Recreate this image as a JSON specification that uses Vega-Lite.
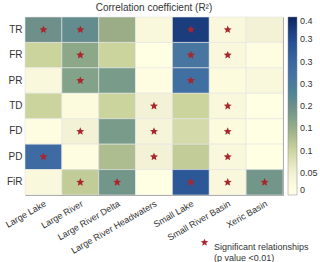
{
  "$schema": "https://vega.github.io/schema/vega-lite/v6.json",
  "width": 258,
  "height": 178,
  "autosize": {"type": "none"},
  "padding": {"left": 25, "top": 17, "right": 37, "bottom": 67},
  "background": "white",
  "title": {"text": "Correlation coefficient (R²)", "fontSize": 10, "fontWeight": "normal", "font": "Liberation Sans", "color": "#333333", "offset": 4, "anchor": "middle"},
  "config": {"view": {"stroke": "#999999", "strokeWidth": 1}, "font": "Liberation Sans"},
  "data": {"values": [
    {"y": "TR", "x": "Large Lake", "r2": 0.2, "sig": 1},
    {"y": "TR", "x": "Large River", "r2": 0.21, "sig": 1},
    {"y": "TR", "x": "Large River Delta", "r2": 0.15, "sig": 0},
    {"y": "TR", "x": "Large River Headwaters", "r2": 0.03, "sig": 0},
    {"y": "TR", "x": "Small Lake", "r2": 0.37, "sig": 1},
    {"y": "TR", "x": "Small River Basin", "r2": 0.03, "sig": 1},
    {"y": "TR", "x": "Xeric Basin", "r2": 0.05, "sig": 0},
    {"y": "FR", "x": "Large Lake", "r2": 0.1, "sig": 0},
    {"y": "FR", "x": "Large River", "r2": 0.16, "sig": 1},
    {"y": "FR", "x": "Large River Delta", "r2": 0.1, "sig": 0},
    {"y": "FR", "x": "Large River Headwaters", "r2": 0.0, "sig": 0},
    {"y": "FR", "x": "Small Lake", "r2": 0.26, "sig": 1},
    {"y": "FR", "x": "Small River Basin", "r2": 0.03, "sig": 1},
    {"y": "FR", "x": "Xeric Basin", "r2": 0.01, "sig": 0},
    {"y": "PR", "x": "Large Lake", "r2": 0.03, "sig": 0},
    {"y": "PR", "x": "Large River", "r2": 0.17, "sig": 1},
    {"y": "PR", "x": "Large River Delta", "r2": 0.18, "sig": 0},
    {"y": "PR", "x": "Large River Headwaters", "r2": 0.01, "sig": 0},
    {"y": "PR", "x": "Small Lake", "r2": 0.28, "sig": 1},
    {"y": "PR", "x": "Small River Basin", "r2": 0.02, "sig": 0},
    {"y": "PR", "x": "Xeric Basin", "r2": 0.03, "sig": 0},
    {"y": "TD", "x": "Large Lake", "r2": 0.1, "sig": 0},
    {"y": "TD", "x": "Large River", "r2": 0.02, "sig": 0},
    {"y": "TD", "x": "Large River Delta", "r2": 0.1, "sig": 0},
    {"y": "TD", "x": "Large River Headwaters", "r2": 0.05, "sig": 1},
    {"y": "TD", "x": "Small Lake", "r2": 0.1, "sig": 0},
    {"y": "TD", "x": "Small River Basin", "r2": 0.03, "sig": 1},
    {"y": "TD", "x": "Xeric Basin", "r2": 0.0, "sig": 0},
    {"y": "FD", "x": "Large Lake", "r2": 0.01, "sig": 0},
    {"y": "FD", "x": "Large River", "r2": 0.05, "sig": 1},
    {"y": "FD", "x": "Large River Delta", "r2": 0.18, "sig": 0},
    {"y": "FD", "x": "Large River Headwaters", "r2": 0.04, "sig": 1},
    {"y": "FD", "x": "Small Lake", "r2": 0.09, "sig": 0},
    {"y": "FD", "x": "Small River Basin", "r2": 0.02, "sig": 1},
    {"y": "FD", "x": "Xeric Basin", "r2": 0.0, "sig": 0},
    {"y": "PD", "x": "Large Lake", "r2": 0.29, "sig": 1},
    {"y": "PD", "x": "Large River", "r2": 0.01, "sig": 0},
    {"y": "PD", "x": "Large River Delta", "r2": 0.13, "sig": 0},
    {"y": "PD", "x": "Large River Headwaters", "r2": 0.05, "sig": 1},
    {"y": "PD", "x": "Small Lake", "r2": 0.11, "sig": 0},
    {"y": "PD", "x": "Small River Basin", "r2": 0.03, "sig": 1},
    {"y": "PD", "x": "Xeric Basin", "r2": 0.0, "sig": 0},
    {"y": "FiR", "x": "Large Lake", "r2": 0.03, "sig": 0},
    {"y": "FiR", "x": "Large River", "r2": 0.11, "sig": 1},
    {"y": "FiR", "x": "Large River Delta", "r2": 0.19, "sig": 1},
    {"y": "FiR", "x": "Large River Headwaters", "r2": 0.0, "sig": 0},
    {"y": "FiR", "x": "Small Lake", "r2": 0.33, "sig": 1},
    {"y": "FiR", "x": "Small River Basin", "r2": 0.03, "sig": 1},
    {"y": "FiR", "x": "Xeric Basin", "r2": 0.19, "sig": 1}
  ]},
  "encoding": {
    "x": {"field": "x", "type": "nominal", "sort": null, "title": null,
      "axis": {"labelAngle": -30, "labelAlign": "right", "labelBaseline": "top", "labelFontSize": 9, "labelColor": "#333333", "ticks": false, "domain": false, "labelPadding": 4}},
    "y": {"field": "y", "type": "nominal", "sort": ["TR", "FR", "PR", "TD", "FD", "PD", "FiR"], "title": null,
      "axis": {"labelFontSize": 10, "labelColor": "#333333", "ticks": false, "domain": false, "labelPadding": 3}}
  },
  "layer": [
    {
      "mark": {"type": "rect", "stroke": "#e4e4e4", "strokeWidth": 0.6},
      "encoding": {
        "color": {"field": "r2", "type": "quantitative",
          "scale": {"domain": [0, 0.05, 0.1, 0.15, 0.2, 0.25, 0.3, 0.35, 0.4], "range": ["#ffffff", "#f3f2d6", "#ccd49e", "#9aad86", "#6e8f8a", "#4d7aa1", "#3a67a2", "#244e91", "#0c2461"]},
          "legend": {"orient": "none", "legendX": 263, "legendY": 0, "direction": "vertical", "gradientLength": 178, "gradientThickness": 9, "gradientStrokeColor": "#888888", "gradientStrokeWidth": 0.5, "title": null, "values": [0, 0.05, 0.1, 0.15, 0.2, 0.25, 0.3, 0.35, 0.4], "format": "~g", "labelFontSize": 9, "labelColor": "#333333", "labelOffset": 3, "labelOverlap": false, "labelBaseline": "middle"}}
      }
    },
    {
      "transform": [{"filter": "datum.sig == 1"}],
      "mark": {"type": "point", "filled": true, "color": "#a8262c", "size": 70, "opacity": 1},
      "encoding": {
        "shape": {"datum": "Significant relationships", "scale": {"range": ["M0,-1L0.265,-0.364L0.951,-0.309L0.428,0.139L0.588,0.809L0,0.45L-0.588,0.809L-0.428,0.139L-0.951,-0.309L-0.265,-0.364Z"]},
          "legend": {"orient": "none", "legendX": 175, "legendY": 221, "title": null, "labelFontSize": 9, "labelColor": "#333333", "symbolFillColor": "#a8262c", "symbolStrokeColor": "#a8262c", "symbolStrokeWidth": 0, "symbolSize": 60, "labelOffset": 5, "labelBaseline": "top", "labelExpr": "['Significant relationships', '(p value <0.01)']", "encode": {"labels": {"update": {"dy": {"value": -5}, "lineHeight": {"value": 10}}}}}}
      }
    }
  ]
}
